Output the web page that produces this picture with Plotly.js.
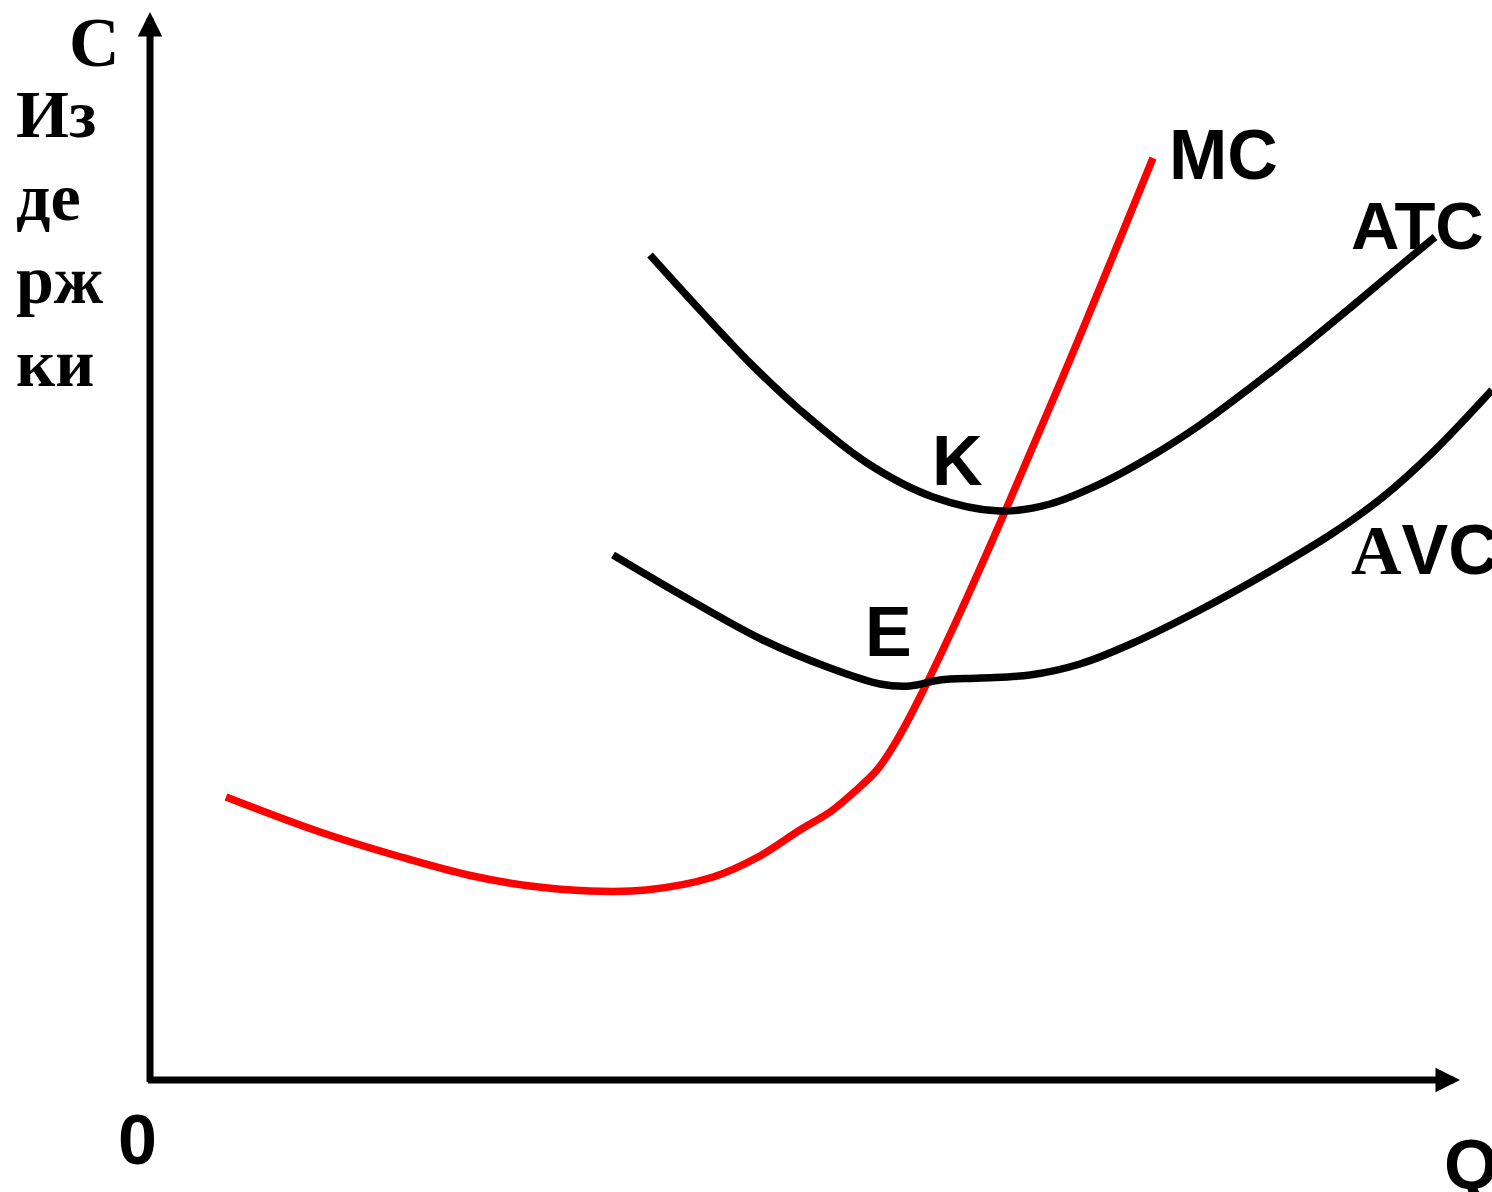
<!DOCTYPE html>
<html>
<head>
<meta charset="utf-8">
<script src="https://cdn.plot.ly/plotly-3.0.1.min.js"></script>
<style>html,body{margin:0;padding:0;background:#fff;}#chart{width:1492px;height:1192px;}</style>
</head>
<body>
<div id="chart"></div>
<script>
// Marginal cost (MC)
const mcQ = [0.76, 1.70, 2.51, 3.18, 3.80, 4.40, 4.96, 5.63, 6.08, 6.50, 6.80, 7.03, 7.27, 7.47, 7.70, 8.10, 8.57, 9.27, 10.03];
const mcC = [2.83, 2.48, 2.23, 2.05, 1.94, 1.89, 1.90, 2.03, 2.23, 2.50, 2.68, 2.87, 3.10, 3.40, 3.83, 4.67, 5.73, 7.37, 9.22];
// Average total cost (ATC)
const atcQ = [5.00, 5.50, 6.00, 6.50, 7.17, 7.83, 8.50, 9.00, 9.50, 10.00, 10.50, 11.00, 11.50, 12.00, 12.50, 12.85];
const atcC = [8.25, 7.70, 7.17, 6.70, 6.17, 5.83, 5.69, 5.76, 5.96, 6.23, 6.55, 6.92, 7.31, 7.72, 8.14, 8.43];
// Average variable cost (AVC)
const avcQ = [4.63, 5.40, 6.13, 6.80, 7.30, 7.60, 7.90, 8.30, 8.80, 9.30, 9.83, 10.50, 11.17, 11.83, 12.33, 12.83, 13.42];
const avcC = [5.25, 4.80, 4.40, 4.12, 3.96, 3.94, 4.00, 4.02, 4.05, 4.16, 4.37, 4.70, 5.07, 5.47, 5.83, 6.28, 6.90];

const curveLabels = ["MC", "ATC", "<span style=\"font-family:'Liberation Serif'\">A</span>VC"];
const pointLabels = ["K", "E"];
const yTitleLines = ["C", "Из", "де", "рж", "ки"];
const originLabel = "0";
const xTitle = "Q";

const lineStyle = (color) => ({color: color, width: 7.5, shape: "spline", smoothing: 1});
const traces = [
  {x: mcQ, y: mcC, mode: "lines", line: lineStyle("#ff0000"), hoverinfo: "skip"},
  {x: atcQ, y: atcC, mode: "lines", line: lineStyle("#000000"), hoverinfo: "skip"},
  {x: avcQ, y: avcC, mode: "lines", line: lineStyle("#000000"), hoverinfo: "skip"}
];

const sans = {family: "'Liberation Sans', Arial, sans-serif", size: 70, color: "#000", weight: "bold"};
const sansAtc = {family: "'Liberation Sans', Arial, sans-serif", size: 67, color: "#000", weight: "bold"};
const serif = {family: "'Liberation Serif', 'Times New Roman', serif", size: 70, color: "#000", weight: "bold"};
const serifSm = {family: "'Liberation Serif', 'Times New Roman', serif", size: 68, color: "#000", weight: "bold"};

function label(text, x, y, font) {
  return {text: text, x: x, y: y, xref: "x", yref: "y", showarrow: false, font: font, xanchor: "left", yanchor: "middle"};
}
function axisArrow(x, y, ax, ay) {
  return {x: x, y: y, ax: ax, ay: ay, xref: "x", yref: "y", axref: "x", ayref: "y", showarrow: true,
          arrowhead: 2, arrowsize: 0.7, arrowwidth: 7, arrowcolor: "#000", standoff: 0, text: ""};
}

const annotations = [
  axisArrow(0, 10.68, 0, -0.035),
  axisArrow(13.10, 0, -0.035, 0),
  label(curveLabels[0], 10.17, 9.25, sans),
  label(curveLabels[1], 11.99, 8.55, sansAtc),
  label(curveLabels[2], 11.99, 5.30, sans),
  label(pointLabels[0], 7.80, 6.19, sans),
  label(pointLabels[1], 7.13, 4.48, sans),
  label(yTitleLines[0], -0.83, 10.38, serif),
  label(yTitleLines[1], -1.36, 9.66, serifSm),
  label(yTitleLines[2], -1.36, 8.83, serifSm),
  label(yTitleLines[3], -1.36, 8.00, serifSm),
  label(yTitleLines[4], -1.36, 7.17, serifSm),
  label(originLabel, -0.34, -0.60, sans),
  label(xTitle, 12.92, -0.85, sans)
];

const layout = {
  width: 1492, height: 1192,
  margin: {l: 0, r: 0, t: 0, b: 0, pad: 0},
  paper_bgcolor: "#fff", plot_bgcolor: "#fff",
  showlegend: false,
  xaxis: {range: [-1.5, 13.42], visible: false, fixedrange: true},
  yaxis: {range: [-1.12, 10.80], visible: false, fixedrange: true},
  annotations: annotations
};

Plotly.newPlot("chart", traces, layout, {staticPlot: true, displayModeBar: false});
</script>
</body>
</html>
